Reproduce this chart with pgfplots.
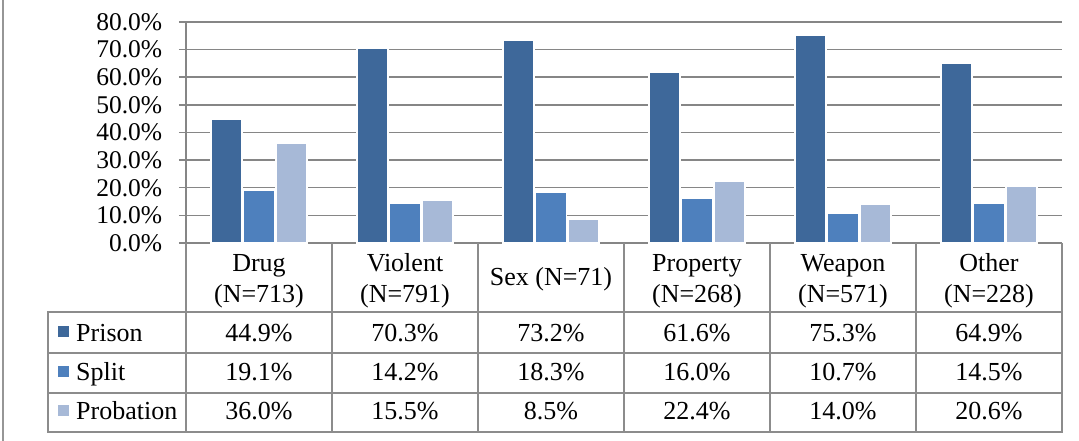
\documentclass[border=0pt]{standalone}
\usepackage{fontspec}
\setmainfont{Liberation Serif}
\usepackage{pgfplots}
\pgfplotsset{compat=1.18}
\definecolor{cPrison}{RGB}{62,104,154}
\definecolor{cSplit}{RGB}{78,128,189}
\definecolor{cProb}{RGB}{167,185,215}
\definecolor{gridc}{RGB}{134,134,134}
\definecolor{tabc}{RGB}{140,140,140}
\begin{document}
\fontsize{26}{31}\selectfont
\begin{tikzpicture}[x=1pt,y=1pt]
\useasboundingbox (-186,-198) rectangle (893,243);
\begin{axis}[at={(0,0)}, anchor=south west, scale only axis,
  width=876pt, height=221pt,
  xmin=-0.5, xmax=5.5, ymin=0, ymax=80,
  ybar=1.5pt, bar width=31pt,
  axis lines*=left,
  axis line style={gridc, line width=1.5pt},
  xtick=\empty,
  ytick={0,10,...,80},
  ymajorgrids, grid style={gridc, line width=1.5pt},
  ytick style={gridc, line width=1.5pt},
  tick align=outside, major tick length=7pt,
  /pgf/number format/assume math mode=true,
  yticklabel={\pgfmathprintnumber[fixed,fixed zerofill,precision=1]{\tick}\%},
  yticklabel style={font=\fontsize{25.5}{28}\selectfont, xshift=-8pt},
  clip=false,
]
\addplot[fill=cPrison, draw=white, line width=1.2pt] coordinates {(0,44.9) (1,70.3) (2,73.2) (3,61.6) (4,75.3) (5,64.9)};
\addplot[fill=cSplit, draw=white, line width=1.2pt] coordinates {(0,19.1) (1,14.2) (2,18.3) (3,16.0) (4,10.7) (5,14.5)};
\addplot[fill=cProb, draw=white, line width=1.2pt] coordinates {(0,36.0) (1,15.5) (2,8.5) (3,22.4) (4,14.0) (5,20.6)};
\end{axis}
% table grid
\begin{scope}[draw=tabc, line width=1.5pt]
\foreach \x in {0,146,292,438,584,730,876} \draw (\x,0) -- (\x,-189);
\draw (-138,-69) -- (-138,-189);
\foreach \y in {-69,-110,-150,-189} \draw (-138.75,\y) -- (876.75,\y);
\end{scope}
\draw[color={rgb,255:red,150;green,150;blue,150}, line width=1.5pt] (-183,243) -- (-183,-198);
% headers
\foreach \i/\a/\b in {0/Drug/(N=713),1/Violent/(N=791),3/Property/(N=268),4/Weapon/(N=571),5/Other/(N=228)} {
  \node[anchor=base, inner sep=0pt] at (73+146*\i,-29) {\a};
  \node[anchor=base, inner sep=0pt] at (73+146*\i,-60) {\b};
}
\node[anchor=base, inner sep=0pt] at (73+146*2,-43) {Sex (N=71)};
% row labels
\fill[cPrison] (-128,-94) rectangle (-117,-83);
\fill[cSplit] (-128,-134) rectangle (-117,-123);
\fill[cProb] (-128,-173.5) rectangle (-117,-162.5);
\node[anchor=base west, inner sep=0pt] at (-110,-98.7) {Prison};
\node[anchor=base west, inner sep=0pt] at (-110,-137.7) {Split};
\node[anchor=base west, inner sep=0pt] at (-110,-177) {Probation};
% values
\foreach \i/\v in {0/44.9,1/70.3,2/73.2,3/61.6,4/75.3,5/64.9}
  \node[anchor=base, inner sep=0pt] at (73+146*\i,-98.7) {\v\%};
\foreach \i/\v in {0/19.1,1/14.2,2/18.3,3/16.0,4/10.7,5/14.5}
  \node[anchor=base, inner sep=0pt] at (73+146*\i,-137.7) {\v\%};
\foreach \i/\v in {0/36.0,1/15.5,2/8.5,3/22.4,4/14.0,5/20.6}
  \node[anchor=base, inner sep=0pt] at (73+146*\i,-177) {\v\%};
\end{tikzpicture}
\end{document}
